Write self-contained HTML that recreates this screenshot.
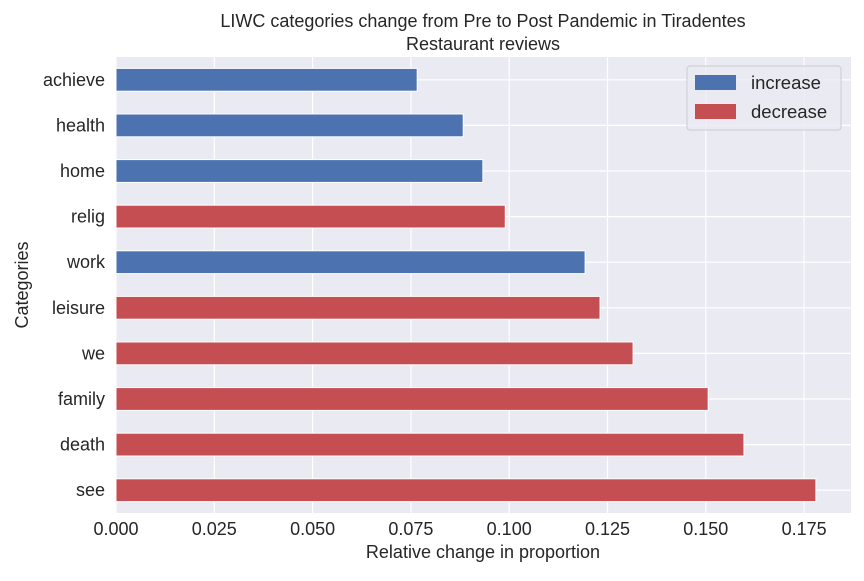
<!DOCTYPE html>
<html><head><meta charset="utf-8"><style>
body{margin:0;background:#fff}
svg text{font-family:"Liberation Sans",Arial,sans-serif;fill:#262626}
</style></head><body>
<svg id="chart" width="864" height="576">
<rect id="plot" x="116" y="57" width="735" height="456" fill="#eaeaf2"/>
<g id="grid"></g><g id="bars"></g><g id="xticks"></g><g id="yticks"></g>
<text x="483" y="27" text-anchor="middle" font-size="18">LIWC categories change from Pre to Post Pandemic in Tiradentes</text>
<text x="483" y="50" text-anchor="middle" font-size="18">Restaurant reviews</text>
<text x="483" y="558" text-anchor="middle" font-size="18">Relative change in proportion</text>
<text transform="translate(28,285) rotate(-90)" text-anchor="middle" font-size="18">Categories</text>
<g>
<rect x="687" y="66" width="154" height="64" rx="3" fill="#eaeaf2" fill-opacity="0.8" stroke="#cccccc"/>
<rect x="695" y="75" width="41" height="15" fill="#4c72b0"/>
<text x="751" y="89" font-size="18.5">increase</text>
<rect x="695" y="104" width="41" height="15" fill="#c44e52"/>
<text x="751" y="118" font-size="18.5">decrease</text>
</g>
</svg>
<script>
const categories=["achieve","health","home","relig","work","leisure","we","family","death","see"];
const values=[0.0766,0.0883,0.0933,0.099,0.1193,0.1231,0.1315,0.1506,0.1597,0.178];
const directions=["increase","increase","increase","decrease","increase","decrease","decrease","decrease","decrease","decrease"];
const xTicks=[0,0.025,0.05,0.075,0.1,0.125,0.15,0.175];
const ns="http://www.w3.org/2000/svg";
const X0=116,PPU=3932,Y0=57,STEP=45.6;
const x=v=>X0+v*PPU;
const y=i=>Y0+STEP*(i+0.5);
function mk(tag,attrs,parent){const e=document.createElementNS(ns,tag);for(const k in attrs)e.setAttribute(k,attrs[k]);document.getElementById(parent).appendChild(e);return e;}
xTicks.forEach(t=>{
  const l=mk('line',{x1:x(t),x2:x(t),y1:57,y2:513,stroke:'#fff','stroke-width':1.2},'grid');
  
  
  const tx=mk('text',{x:x(t),y:535,'text-anchor':'middle','font-size':18},'xticks');
  tx.textContent=t.toFixed(3);
  
  
});
categories.forEach((c,i)=>{
  const l=mk('line',{x1:116,x2:851,y1:y(i),y2:y(i),stroke:'#fff','stroke-width':1.2},'grid');
  
  
  const b=mk('rect',{x:x(0),y:y(i)-STEP*0.25,width:x(values[i])-x(0),height:STEP*0.5,fill:directions[i]==='increase'?'#4c72b0':'#c44e52',stroke:'#fff','stroke-width':1},'bars');
  
  
  const t=mk('text',{x:105,y:y(i)+6,'text-anchor':'end','font-size':18},'yticks');
  t.textContent=c;
  
  
});
</script>
</body></html>
